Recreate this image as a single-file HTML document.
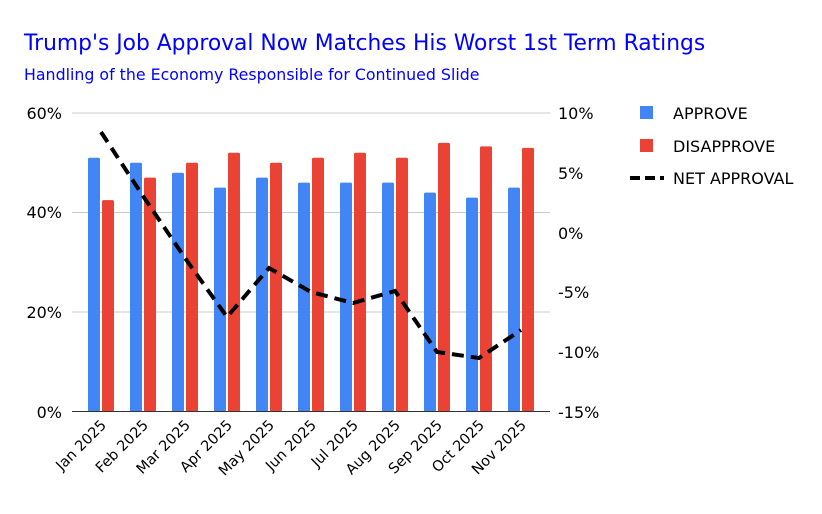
<!DOCTYPE html>
<html><head><style>
body{margin:0;background:#fff;}
svg text{font-family:"DejaVu Sans",sans-serif;}
</style></head><body>
<svg width="822" height="509" xmlns="http://www.w3.org/2000/svg">
<rect width="822" height="509" fill="#fff"/>
<text x="24" y="50" font-size="21.8" fill="#0000ff">Trump's Job Approval Now Matches His Worst 1st Term Ratings</text>
<text x="24" y="80" font-size="15.8" fill="#0000ff">Handling of the Economy Responsible for Continued Slide</text>
<g stroke="#cccccc" stroke-width="1">
<line x1="72" y1="113" x2="550" y2="113"/><line x1="72" y1="212.5" x2="550" y2="212.5"/><line x1="72" y1="312" x2="550" y2="312"/>
</g>
<g font-size="16" fill="#000">
<text x="62" y="119" text-anchor="end">60%</text><text x="62" y="218" text-anchor="end">40%</text><text x="62" y="318" text-anchor="end">20%</text><text x="62" y="418" text-anchor="end">0%</text>
<text x="558" y="119">10%</text><text x="558" y="179">5%</text><text x="558" y="239">0%</text><text x="558" y="298">-5%</text><text x="558" y="358">-10%</text><text x="558" y="418">-15%</text>
</g>
<g id="bars"></g>
<line x1="72" y1="411.5" x2="550" y2="411.5" stroke="#333" stroke-width="1"/>
<polyline points="101,132 143,196 185,258 227,317 269,268 311,292 353,303 395,291 437,352 479,358 521,330" fill="none" stroke="#000" stroke-width="4" stroke-dasharray="12,7"/>
<g id="xl" font-size="14.5"></g>
<rect x="640" y="106" width="13" height="13" fill="#4285f4"/>
<text x="673" y="119" font-size="16">APPROVE</text>
<rect x="640" y="139" width="13" height="13" fill="#ea4335"/>
<text x="673" y="152" font-size="16">DISAPPROVE</text>
<line x1="630" y1="178" x2="664" y2="178" stroke="#000" stroke-width="4" stroke-dasharray="10,5"/>
<text x="673" y="184" font-size="16">NET APPROVAL</text>
</svg>
<script>
var a=[51,50,48,45,47,46,46,46,44,43,45],d=[42.5,47,50,52,50,51,52,51,54,53.3,53];
var m=["Jan","Feb","Mar","Apr","May","Jun","Jul","Aug","Sep","Oct","Nov"];
var g=document.getElementById("bars"),x=document.getElementById("xl"),s="",t="";
for(var i=0;i<11;i++){var c=101+42*i;
var ya=411.5-a[i]*4.975,yd=411.5-d[i]*4.975;
s+='<rect x="'+(c-13)+'" y="'+ya+'" width="12" height="'+(411.5-ya)+'" rx="1.5" fill="#4285f4"/>';
s+='<rect x="'+(c+1)+'" y="'+yd+'" width="12" height="'+(411.5-yd)+'" rx="1.5" fill="#ea4335"/>';
t+='<text transform="translate('+(c+6)+',426) rotate(-45)" text-anchor="end">'+m[i]+' 2025</text>';}
g.innerHTML=s;x.innerHTML=t;
</script>
</body></html>
